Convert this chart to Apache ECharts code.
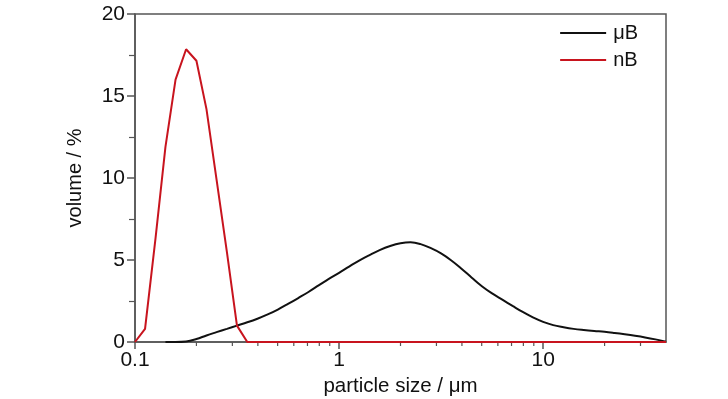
<!DOCTYPE html>
<html>
<head>
<meta charset="utf-8">
<script src="https://cdn.jsdelivr.net/npm/echarts@6/dist/echarts.min.js"></script>
<style>
  html, body { margin: 0; padding: 0; background: #fff; }
  #chart { width: 728px; height: 399px; }
</style>
</head>
<body>
<div id="chart"></div>
<script>
// particle size (µm) and volume (%)
const ubSize = [0.141, 0.158, 0.178, 0.2, 0.224, 0.251, 0.282, 0.316, 0.355, 0.398, 0.447, 0.501,
  0.562, 0.631, 0.708, 0.794, 0.891, 1.0, 1.12, 1.26, 1.41, 1.58, 1.78, 2.0, 2.24, 2.51, 2.82,
  3.16, 3.55, 3.98, 4.47, 5.01, 5.62, 6.31, 7.08, 7.94, 8.91, 10, 11.2, 12.6, 14.1, 15.8, 17.8,
  20, 22.4, 25.1, 28.2, 31.6, 35.5, 40]
const ubVolume = [0, 0, 0.03, 0.18, 0.4, 0.6, 0.8, 1.0, 1.2, 1.42, 1.68, 1.98,
  2.32, 2.68, 3.05, 3.45, 3.85, 4.22, 4.6, 4.98, 5.3, 5.6, 5.85, 6.02, 6.08, 5.97, 5.72,
  5.4, 4.97, 4.47, 3.92, 3.4, 2.96, 2.58, 2.2, 1.83, 1.5, 1.23, 1.03, 0.9, 0.8, 0.73, 0.67,
  0.62, 0.55, 0.47, 0.38, 0.28, 0.16, 0.02]

const nbSize = [0.1, 0.112, 0.126, 0.141, 0.158, 0.178, 0.2, 0.224, 0.251, 0.282, 0.316, 0.355, 40]
const nbVolume = [0, 0.8, 6.3, 11.9, 16.0, 17.85, 17.15, 14.2, 9.9, 5.5, 1.0, 0, 0]

const xMinorTicks = [0.2, 0.3, 0.4, 0.5, 0.6, 0.7, 0.8, 0.9, 2, 3, 4, 5, 6, 7, 8, 9, 20, 30]
const xLabels = [0.1, 1, 10]

const axisColor = '#555'
const font = 'Liberation Sans, Arial, sans-serif'

const chart = echarts.init(document.getElementById('chart'))

const option = {
  animation: false,
  backgroundColor: '#fff',
  grid: {
    left: 135,
    right: 62,
    top: 14,
    bottom: 57,
    outerBoundsMode: 'none',
    containLabel: false,
    show: true,
    borderColor: axisColor,
    borderWidth: 1.5
  },
  legend: {
    orient: 'vertical',
    right: 85,
    top: 18,
    itemWidth: 46,
    itemHeight: 2,
    itemGap: 7,
    icon: 'rect',
    data: ['μB', 'nB'],
    textStyle: { fontFamily: font, fontSize: 20, color: '#111', padding: [0, 0, 0, 2] }
  },
  xAxis: {
    type: 'log',
    logBase: 10,
    min: 0.1,
    max: 40,
    name: 'particle size / μm',
    nameLocation: 'middle',
    nameGap: 30,
    nameTextStyle: { fontFamily: font, fontSize: 20.5, color: '#111' },
    splitLine: { show: false },
    axisLine: { lineStyle: { color: axisColor, width: 1.5 } },
    axisTick: { length: 7, lineStyle: { color: axisColor, width: 1.5 } },
    axisLabel: {
      fontFamily: font,
      fontSize: 21,
      color: '#111',
      margin: 8,
      showMaxLabel: false,
      formatter: v => (xLabels.some(l => Math.abs(l - v) < 1e-9) ? String(v) : '')
    }
  },
  yAxis: {
    type: 'value',
    min: 0,
    max: 20,
    interval: 5,
    name: 'volume / %',
    nameLocation: 'middle',
    nameGap: 50,
    nameTextStyle: { fontFamily: font, fontSize: 20, color: '#111' },
    splitLine: { show: false },
    axisLine: { show: true, lineStyle: { color: axisColor, width: 1.5 } },
    axisTick: { length: 8, lineStyle: { color: axisColor, width: 1.5 } },
    minorTick: { show: true, splitNumber: 2, length: 6, lineStyle: { color: axisColor, width: 1.2 } },
    axisLabel: { fontFamily: font, fontSize: 21, color: '#111', margin: 10 }
  },
  series: [
    {
      name: 'μB',
      type: 'line',
      smooth: 0.4,
      showSymbol: false,
      symbol: 'none',
      color: '#111',
      lineStyle: { color: '#111', width: 2 },
      data: ubSize.map((s, i) => [s, ubVolume[i]]),
      z: 3
    },
    {
      name: 'nB',
      type: 'line',
      showSymbol: false,
      symbol: 'none',
      color: '#c8141e',
      lineStyle: { color: '#c8141e', width: 2 },
      data: nbSize.map((s, i) => [s, nbVolume[i]]),
      z: 4
    },
    {
      // minor ticks of the log x axis
      type: 'custom',
      silent: true,
      clip: false,
      data: xMinorTicks.map(v => [v, 0]),
      renderItem: (params, api) => {
        const p = api.coord([api.value(0), 0])
        return {
          type: 'line',
          shape: { x1: p[0], y1: p[1], x2: p[0], y2: p[1] + 4 },
          style: { stroke: axisColor, lineWidth: 1.2 }
        }
      },
      z: 1
    }
  ]
}

chart.setOption(option)
</script>
</body>
</html>
